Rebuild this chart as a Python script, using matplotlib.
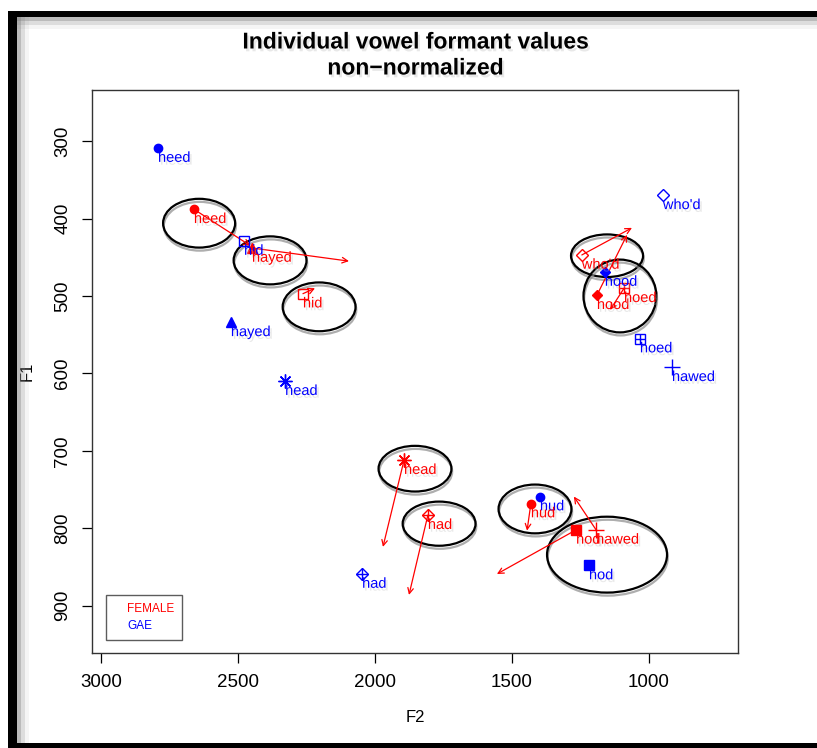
import matplotlib
matplotlib.use("Agg")
import matplotlib.pyplot as plt
import matplotlib.patheffects as pe
from matplotlib.patches import Ellipse, Rectangle
from matplotlib.lines import Line2D

plt.rcParams['font.family'] = ['Liberation Sans', 'DejaVu Sans']

vowels = ["heed", "hid", "hayed", "head", "had", "who'd", "hood", "hoed", "hawed", "hud", "hod"]
gae_f2 = [2792, 2478, 2526, 2328, 2047, 949, 1161, 1033, 916, 1398, 1219]
gae_f1 = [309, 429, 534, 610, 859, 370, 469, 555, 592, 759, 848]
fem_f2 = [2661, 2263, 2449, 1894, 1807, 1245, 1190, 1091, 1193, 1431, 1266]
fem_f1 = [388, 497, 438, 712, 783, 447, 499, 490, 802, 768, 802]
# where the red arrows point to
arrow_f2 = [2455, 2219, 2095, 1971, 1876, 1062, 1080, 1142, 1274, 1445, 1555]
arrow_f1 = [435, 490, 455, 824, 886, 412, 421, 518, 759, 803, 859]

# female ellipses
ell_f2 = [2642, 2383, 2204, 1854, 1766, 1416, 1153, 1153, 1106]
ell_f1 = [406, 454, 514, 723, 794, 775, 834, 448, 500]
ell_w = [263, 266, 266, 266, 266, 266, 438, 263, 266]
ell_h = [63, 62, 63, 59, 57, 63, 98, 55, 94]

# R pch equivalents
pch = {"heed": "circle", "hid": "square", "hayed": "triangle", "head": "asterisk",
       "had": "diamondplus", "who'd": "diamond", "hood": "fdiamond", "hoed": "squareplus",
       "hawed": "plus", "hud": "circle", "hod": "fsquare"}

txt_shadow = [pe.SimplePatchShadow(offset=(1.5, -2), shadow_rgbFace='0.75', alpha=0.35), pe.Normal()]
line_shadow = [pe.SimpleLineShadow(offset=(0.5, -2.2), shadow_color='0.55', alpha=0.7, linewidth=1.6), pe.Normal()]


def draw_point(ax, x, y, kind, col):
    kw = dict(color=col, linestyle='none', zorder=4)
    if kind == "circle":
        ax.plot(x, y, marker='o', markersize=6, **kw)
    elif kind == "square":
        ax.plot(x, y, marker='s', markersize=7, mfc='none', mew=1, **kw)
    elif kind == "triangle":
        ax.plot(x, y, marker='^', markersize=7, **kw)
    elif kind == "asterisk":
        ax.plot(x, y, marker=(8, 2, 0), markersize=10, mew=1, **kw)
    elif kind == "diamondplus":
        ax.plot(x, y, marker='D', markersize=6.5, mfc='none', mew=1, **kw)
        ax.plot(x, y, marker='+', markersize=9, mew=1, **kw)
    elif kind == "diamond":
        ax.plot(x, y, marker='D', markersize=6.5, mfc='none', mew=1, **kw)
    elif kind == "fdiamond":
        ax.plot(x, y, marker='D', markersize=5, **kw)
    elif kind == "squareplus":
        ax.plot(x, y, marker='s', markersize=7, mfc='none', mew=1, **kw)
        ax.plot(x, y, marker='+', markersize=7, mew=1, **kw)
    elif kind == "plus":
        ax.plot(x, y, marker='+', markersize=12, mew=1, **kw)
    elif kind == "fsquare":
        ax.plot(x, y, marker='s', markersize=6.5, **kw)


fig = plt.figure(figsize=(8.17, 7.48), dpi=100)
ax = fig.add_axes([92 / 817, 1 - 653 / 748, 646 / 817, 563 / 748])

for i in range(len(ell_f2)):
    e = Ellipse((ell_f2[i], ell_f1[i]), ell_w[i], ell_h[i], fill=False,
                edgecolor='black', linewidth=1.6, zorder=2)
    e.set_path_effects(line_shadow)
    ax.add_patch(e)

for i, v in enumerate(vowels):
    ax.annotate("", xy=(arrow_f2[i], arrow_f1[i]), xytext=(fem_f2[i], fem_f1[i]),
                arrowprops=dict(arrowstyle='->', color='red', lw=0.9,
                                shrinkA=0, shrinkB=0, mutation_scale=10), zorder=3)

for i, v in enumerate(vowels):
    draw_point(ax, gae_f2[i], gae_f1[i], pch[v], 'blue')
    draw_point(ax, fem_f2[i], fem_f1[i], pch[v], 'red')
    ax.annotate(v, (gae_f2[i], gae_f1[i]), xytext=(0, -2), textcoords='offset points',
                ha='left', va='top', color='blue', fontsize=10.5, zorder=5,
                path_effects=txt_shadow)
    ax.annotate(v, (fem_f2[i], fem_f1[i]), xytext=(0, -2), textcoords='offset points',
                ha='left', va='top', color='red', fontsize=10.5, zorder=5,
                path_effects=txt_shadow)

ax.set_xlim(3033, 675)
ax.set_ylim(961, 234)
ax.set_xticks([3000, 2500, 2000, 1500, 1000])
ax.set_yticks([300, 400, 500, 600, 700, 800, 900])
ax.tick_params(direction='out', length=7, width=0.9, labelsize=13.5, pad=8)
for lbl in ax.get_yticklabels():
    lbl.set_rotation(90)
    lbl.set_va('center')
for s in ax.spines.values():
    s.set_linewidth(1)
    s.set_color('0.2')

ax.set_xlabel("F2", fontsize=12, labelpad=14)
ax.set_ylabel("F1", fontsize=12, labelpad=14)
fig.text(415 / 817, 1 - 42 / 748, "Individual vowel formant values", ha='center', va='center',
         fontsize=16.5, fontweight='bold', path_effects=txt_shadow)
fig.text(415 / 817, 1 - 68 / 748, "non\u2212normalized", ha='center', va='center',
         fontsize=16.5, fontweight='bold', path_effects=txt_shadow)

handles = [Line2D([], [], linestyle='none'), Line2D([], [], linestyle='none')]
leg = ax.legend(handles, ["FEMALE", "GAE"], labelcolor=['red', 'blue'], loc='lower left',
                bbox_to_anchor=(0.012, 0.013), fontsize=8.5, frameon=True, fancybox=False,
                handlelength=0.8, handletextpad=0.3, borderpad=0.7, labelspacing=0.35)
leg.get_frame().set_edgecolor('0.2')
leg.get_frame().set_linewidth(1)

# screenshot frame
for g, a in [(4, 0.35), (8, 0.2), (12, 0.08)]:
    fig.patches.append(Rectangle((17 / 817, 0), g / 817, 1 - 17 / 748, transform=fig.transFigure,
                                 facecolor='0.5', alpha=a, edgecolor='none'))
    fig.patches.append(Rectangle((17 / 817, 1 - (17 + g) / 748), 1, g / 748, transform=fig.transFigure,
                                 facecolor='0.5', alpha=a, edgecolor='none'))
fig.patches.append(Rectangle((8 / 817, 5 / 748), 9 / 817, 1 - 16 / 748, transform=fig.transFigure,
                             facecolor='black', edgecolor='none'))
fig.patches.append(Rectangle((8 / 817, 1 - 17 / 748), 1, 6 / 748, transform=fig.transFigure,
                             facecolor='black', edgecolor='none'))
fig.patches.append(Rectangle((8 / 817, 0), 1, 5 / 748, transform=fig.transFigure,
                             facecolor='black', edgecolor='none'))

fig.savefig("out.png", dpi=100)
